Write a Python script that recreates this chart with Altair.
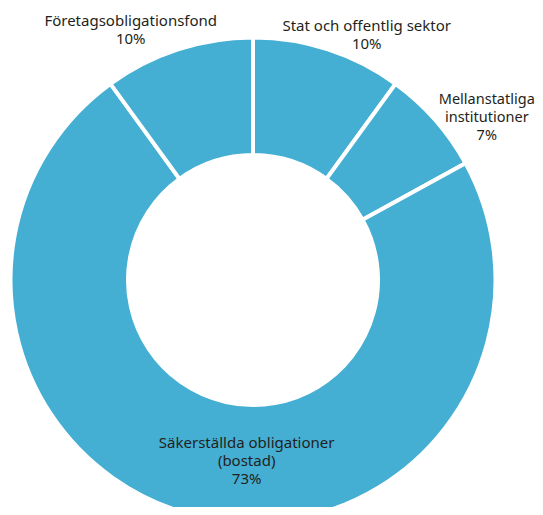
import altair as alt
import pandas as pd

categories = ["Stat och offentlig sektor", "Mellanstatliga\ninstitutioner",
              "Säkerställda obligationer\n(bostad)", "Företagsobligationsfond"]
keys = ["stat", "mellan", "saker", "foretag"]
values = [10, 7, 73, 10]
order = [1, 2, 3, 4]

df = pd.DataFrame({
    "key": keys,
    "category": categories,
    "value": values,
    "order": order,
})
df["label"] = [f"{c}\n{v}%" for c, v in zip(categories, values)]

CX, CY = 245, 272
theta_scale = alt.Scale(domain=[0, 100])

arcs = alt.Chart(df).mark_arc(
    innerRadius=125, outerRadius=242.5, stroke="white", strokeWidth=4,
    color="#44AED3",
).encode(
    theta=alt.Theta("value:Q", stack=True, scale=theta_scale),
    order=alt.Order("order:Q"),
    x=alt.value(CX),
    y=alt.value(CY),
)

text_base = alt.Chart(df).transform_window(
    cum="sum(value)", sort=[alt.SortField("order")], frame=[None, 0]
).transform_calculate(
    mid="datum.cum - datum.value / 2"
)

def label(key, radius, dx=0, dy=0, size=15):
    return text_base.transform_filter(alt.datum.key == key).mark_text(
        radius=radius, dx=dx, dy=dy, lineBreak="\n", align="center",
        baseline="middle", font="Noto Sans", fontSize=size, color="#231F20",
        lineHeight=18,
    ).encode(
        theta=alt.Theta("mid:Q", stack=None, scale=theta_scale),
        x=alt.value(CX),
        y=alt.value(CY),
        text="label:N",
    )

chart = alt.layer(
    arcs,
    label("stat", 258, dx=34, dy=-8.5),
    label("mellan", 245, dx=50, dy=-17.5, size=14.5),
    label("saker", 185, dx=34, dy=-18),
    label("foretag", 263, dx=-41, dy=-8.5),
).properties(width=527, height=499, padding=0, autosize="none").configure_view(stroke=None)

chart.save("out.html", embed_options={"renderer": "svg", "actions": False})
